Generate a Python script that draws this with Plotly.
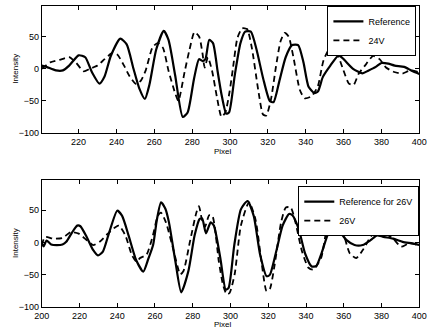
import plotly.graph_objects as go

# ---- Data ----
ref24_x = [200.5, 203, 208, 211.7, 215, 220, 223.5, 227, 231, 233.7, 237, 242, 245.4, 249, 252, 255, 257.4, 261, 265, 267.5,
           271, 275, 277.6, 281, 283.6, 285.5, 287, 289, 291, 293.5, 295.5, 298, 299.5, 302.5, 305.5, 308, 311, 314, 317.5,
           321, 323, 326, 329.4, 332.8, 336, 338.8, 341.5, 344.6, 346.5, 349, 353, 357.4, 360, 365, 370, 373, 377, 380,
           383.6, 387, 392, 396, 400]
ref24_y = [5, 3, -2.5, -2.5, 5, 21, 18, -5, -23, -12, 20, 47, 38, 0, -30, -47, -25, 30, 59, 45,
           -10, -75, -68, -15, 15, 12, 15, 45, 40, -5, -40, -70, -68, -10, 40, 58, 58, 30, -15,
           -50, -52, -20, 18, 37, 37, 10, -28, -38, -35, -13, 5, 21, 15, 0, -7, -3, 3, 9,
           8, 5, 3, -3, -8]

v24_x = [200.5, 205, 210, 215, 218.5, 222.7, 226, 230, 233.7, 238, 240.5, 244, 247, 250.5, 253, 255.5, 259, 261.7, 264.5,
         267.5, 271, 272.7, 276, 278.6, 281.2, 283.7, 285.4, 286.6, 288.3, 290.5, 293, 295.5, 297.5, 299.8, 301.5, 303.9,
         306.4, 309, 311.5, 314.9, 317.4, 319.1, 321.6, 324.2, 326.7, 328.9, 331, 333.5, 336.9, 339.5, 342.9, 346.3,
         349.5, 353.5, 356, 359.4, 362.8, 365.3, 367.9, 371.3, 375.6, 379, 382.4, 386.7, 391, 395.2, 399.5]
v24_y = [0, 10, 14, 18, 10, -4, 0, 5, 15, 25, 22, 5, -12, -24, -18, -2, 33, 40, 33,
         -3, -38, -50, -5, 30, 57, 50, 25, 2, 18, -3, -43, -75, -68, -35, 0, 48,
         63, 62, 33, -33, -71, -73, -48, 2, 43, 56, 50, 18, -33, -46, -43, -28,
         14, 35, 28, 2, -23, -25, -8, 5, 20, 15, 2, -5, -7.5, -2.5, -5]

ref26_x = [200, 201, 202.6, 205, 208, 211, 213, 216.2, 218.8, 220.5, 223.9, 227.3, 229.8, 232.4, 235.8, 240, 242.6, 246,
           250, 253.8, 256.5, 259, 261, 263.2, 265.5, 267.4, 270.8, 273.9, 277.7, 281, 283.6, 285, 287, 289.5, 291.2,
           294.6, 297.5, 299, 302, 305.5, 309, 312.3, 315.7, 319.1, 320.8, 324.2, 327.6, 331, 332.8, 336.1, 339.5, 343,
           345.5, 348.3, 352.1, 354.7, 357.2, 361.5, 365.7, 370, 374.2, 377.6, 381, 386.1, 391.2, 396.3, 400]
ref26_y = [-1, -6, 3, -3, -4, -3, 1, 16, 26, 25, 8, -12, -20, -14, 16, 49, 41, 11,
           -27, -45, -25, -4, 35, 62, 52, 31, -29, -77, -44, 11, 36, 37, 14, 31, 26,
           -24, -73, -70, -4, 51, 64, 41, -19, -52, -50, -14, 26, 44, 42, 21, -17, -37,
           -36, -16, 16, 22, 19, 3.5, -4, -4, 3.5, 11, 8.6, 6, 1, -1.5, -4]

v26_x = [200, 201.8, 206, 211, 215.4, 219.6, 223.9, 227.3, 230.7, 235, 239.2, 240.9, 244.3, 247.7, 250.3, 252.1, 255.5,
         258.9, 261.5, 263.2, 265.8, 270, 273.4, 275.1, 278.5, 281.9, 283.3, 284.8, 286.5, 288.7, 290.4, 293.8, 296,
         298, 299.5, 302.2, 305.5, 309.8, 313.2, 316.6, 319.1, 320.8, 323.4, 326.8, 329.3, 331.9, 334.4, 337.9, 341.3,
         343.8, 348, 351.3, 353.8, 356.4, 359.8, 363.2, 366.6, 370, 374.2, 378.5, 381.9, 386.1, 390.4, 394.6, 399.7]
v26_y = [-4, 8.6, 6, 7, 16, 13.6, 3.5, -4, 1, 13.6, 24, 26, 11, -19, -30, -24, -19,
         11, 41, 46, 31, -14, -49, -44, 1, 46, 56, 36, 24, 42, 41, -29, -65,
         -80, -78, -49, 26, 62, 36, -34, -75, -72, -34, 31, 54, 54, 31, -14, -39,
         -42, -24, 26, 39, 36, 14, -17, -24, -12, 8.6, 21, 14, 6, -6.5, -1.5, -4]

x_ticks_top = [220, 240, 260, 280, 300, 320, 340, 360, 380, 400]
x_ticks_bottom = [200, 220, 240, 260, 280, 300, 320, 340, 360, 380, 400]
y_ticks = [-100, -50, 0, 50]

W, H = 435, 331
FONT = "Liberation Sans, Arial, sans-serif"

fig = go.Figure()
dash = "6px,4px"
fig.add_trace(go.Scatter(x=ref24_x, y=ref24_y, name="Reference", mode="lines",
                         line=dict(color="black", width=2.2, shape="spline", smoothing=0.6),
                         xaxis="x", yaxis="y", legend="legend"))
fig.add_trace(go.Scatter(x=v24_x, y=v24_y, name="24V", mode="lines",
                         line=dict(color="black", width=1.8, dash=dash, shape="spline", smoothing=0.6),
                         xaxis="x", yaxis="y", legend="legend"))
fig.add_trace(go.Scatter(x=ref26_x, y=ref26_y, name="Reference for 26V", mode="lines",
                         line=dict(color="black", width=2.2, shape="spline", smoothing=0.6),
                         xaxis="x2", yaxis="y2", legend="legend2"))
fig.add_trace(go.Scatter(x=v26_x, y=v26_y, name="26V", mode="lines",
                         line=dict(color="black", width=1.8, dash=dash, shape="spline", smoothing=0.6),
                         xaxis="x2", yaxis="y2", legend="legend2"))

xdom = [35 / W, 427 / W]
top_dom = [1 - 135 / H, 1 - 6 / H]
bot_dom = [1 - 312 / H, 1 - 183 / H]

axis_common = dict(showgrid=False, zeroline=False, showline=True, linecolor="black", linewidth=1,
                   mirror="ticks", ticks="inside", ticklen=4, tickcolor="black",
                   tickfont=dict(family=FONT, size=9, color="black"))

fig.update_layout(
    width=W, height=H,
    margin=dict(l=0, r=0, t=0, b=0),
    paper_bgcolor="white", plot_bgcolor="white",
    font=dict(family=FONT, color="black"),
    xaxis=dict(domain=xdom, range=[200.5, 400], tickvals=x_ticks_top, anchor="y", **axis_common),
    yaxis=dict(domain=top_dom, range=[-100, 98], tickvals=y_ticks, anchor="x", **axis_common),
    xaxis2=dict(domain=xdom, range=[200, 400], tickvals=x_ticks_bottom, anchor="y2", **axis_common),
    yaxis2=dict(domain=bot_dom, range=[-100, 96], tickvals=y_ticks, anchor="x2", **axis_common),
    legend=dict(x=424 / W, xanchor="right", y=1 - 6 / H, yanchor="top",
                bgcolor="white", bordercolor="black", borderwidth=1, itemwidth=30,
                font=dict(family=FONT, size=9, color="black"), tracegroupgap=0),
    legend2=dict(x=427 / W, xanchor="right", y=1 - 189 / H, yanchor="top",
                 bgcolor="white", bordercolor="black", borderwidth=1, itemwidth=30,
                 font=dict(family=FONT, size=9, color="black"), tracegroupgap=0),
    showlegend=True,
)

annots = [
    dict(text="Intensity", x=8 / W, y=1 - 70 / H, textangle=-90),
    dict(text="Intensity", x=8 / W, y=1 - 247 / H, textangle=-90),
    dict(text="Pixel", x=223 / W, y=1 - 154 / H, textangle=0),
    dict(text="Pixel", x=223 / W, y=1 - 329 / H, textangle=0),
]
for a in annots:
    fig.add_annotation(xref="paper", yref="paper", showarrow=False, xanchor="center", yanchor="middle",
                       font=dict(family=FONT, size=8, color="black"), **a)

fig.write_html("out.html")
